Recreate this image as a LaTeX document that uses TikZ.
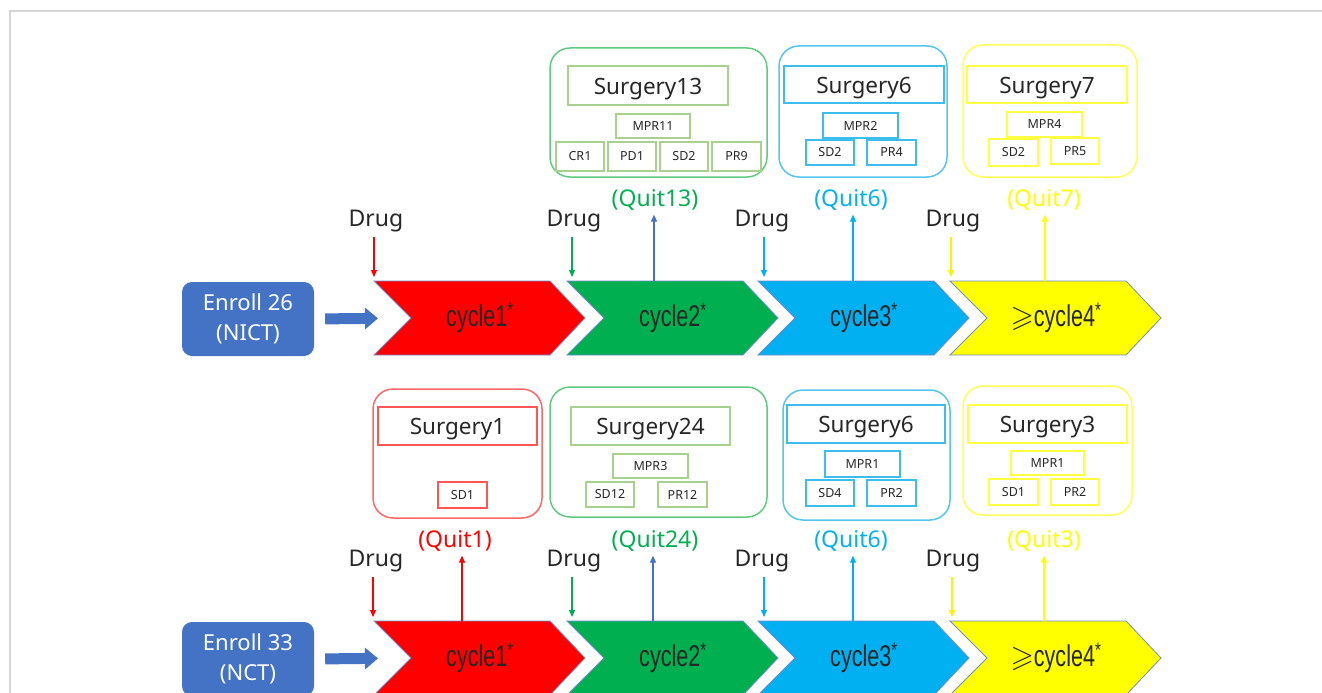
\documentclass[tikz,border=0pt]{standalone}
\usepackage{amssymb}
\usepackage{fontspec}
\setmainfont{Noto Sans}
\newfontfamily\cycfont[FakeStretch=0.72]{Liberation Sans}
\usetikzlibrary{arrows.meta}
\definecolor{cred}{HTML}{FF0000}
\definecolor{cgreen}{HTML}{00B050}
\definecolor{ccyan}{HTML}{00B0F0}
\definecolor{cyellow}{HTML}{FFFF00}
\definecolor{cyelarr}{HTML}{FFF200}
\definecolor{eblue}{HTML}{4472C4}
\definecolor{chevline}{HTML}{6F8CC8}
\definecolor{txt}{HTML}{262626}
\definecolor{pgreen}{HTML}{5FCB80}
\definecolor{igreen}{HTML}{A9D18E}
\definecolor{pcyan}{HTML}{55C5EE}
\definecolor{icyan}{HTML}{3DBDEE}
\definecolor{pyellow}{HTML}{FFFF55}
\definecolor{iyellow}{HTML}{FFFF40}
\definecolor{pred}{HTML}{FF6666}
\definecolor{ired}{HTML}{FF5555}
\definecolor{framec}{HTML}{D6D6D6}
\newcommand\mychev[5]{%
  \draw[chev, fill=#4] (#2,#3-37) coordinate (#1tl) -- (#2+176,#3-37) -- (#2+211,#3)
    -- (#2+176,#3+37) -- (#2,#3+37) -- (#2+37,#3) coordinate (#1n) -- cycle;
  \node[ctext] (#1) at (#2+106,#3) {#5};}
\newcommand\dn[1]{\raisebox{-3.5pt}[\height][\depth]{#1}}
\begin{document}
\begin{tikzpicture}[x=1pt,y=-1pt,
  panel/.style={draw, line width=1.5pt, rounded corners=20pt, inner sep=0pt, outer sep=0pt},
  ibox/.style={draw, line width=1.4pt, inner sep=0pt, text=txt, font=\fontsize{22.5}{26}\selectfont},
  sbox/.style={draw, line width=1.3pt, inner sep=0pt, text=txt, font=\fontsize{12.5}{14}\selectfont},
  drugl/.style={inner sep=0pt, text=txt, font=\fontsize{23}{27}\selectfont},
  quitl/.style={inner sep=0pt, font=\fontsize{23}{27}\selectfont},
  darr/.style={line width=1.1pt, -{Triangle[length=7pt,width=6pt]}, shorten <=5pt, shorten >=4pt},
  qarr/.style={line width=1.1pt, -{Triangle[length=7pt,width=6pt]}, shorten >=4pt},
  chev/.style={draw=chevline, line width=0.8pt},
  ctext/.style={inner sep=0pt, text=txt, font=\cycfont\fontsize{30}{32}\selectfont},
  enroll/.style={fill=eblue, rounded corners=10pt, minimum width=132pt, minimum height=74pt,
    inner sep=0pt, text=white, align=center, font=\fontsize{22}{30}\selectfont},
  earr/.style={draw=eblue, line width=11pt, -{Triangle[length=13pt,width=21pt]}},
  framel/.style={draw=framec, line width=1.5pt}]
\useasboundingbox (0,0) rectangle (1322,693);
\clip (0,0) rectangle (1322,693);
\draw[framel] (10,693) -- (10,11) -- (1322,11);

% ---------------- Row 1 (NICT) ----------------
\node[enroll] (en1) at (248,319) {Enroll 26\\(NICT)};
\mychev{ra}{374}{318}{cred}{cycle1\textsuperscript{*}}
\mychev{rb}{567}{318}{cgreen}{cycle2\textsuperscript{*}}
\mychev{rc}{758}{318}{ccyan}{cycle3\textsuperscript{*}}
\mychev{rd}{950}{318}{cyellow}{$\geqslant$cycle4\textsuperscript{*}}
\draw[earr, shorten <=11pt, shorten >=33pt] (en1.east) -- (ran);

\node[drugl] (da1) at (376,221) {Drug};
\node[drugl] (da2) at (574,221) {Drug};
\node[drugl] (da3) at (762,221) {Drug};
\node[drugl] (da4) at (953,221) {Drug};
\draw[darr, draw=cred] (ratl |- da1.south) -- (ratl);
\draw[darr, draw=cgreen] ([xshift=5pt]rbtl |- da2.south) -- ([xshift=5pt]rbtl);
\draw[darr, draw=ccyan] ([xshift=6pt]rctl |- da3.south) -- ([xshift=6pt]rctl);
\draw[darr, draw=cyelarr] ([xshift=1pt]rdtl |- da4.south) -- ([xshift=1pt]rdtl);

\node[quitl, text=cgreen] (qa2) at (655,200) {(Quit13)};
\node[quitl, text=ccyan] (qa3) at (851,200) {(Quit6)};
\node[quitl, text=cyellow] (qa4) at (1044,200) {(Quit7)};
\coordinate (qpa2) at ([xshift=87pt]rbtl);
\coordinate (qpa3) at ([xshift=95pt]rctl);
\coordinate (qpa4) at ([xshift=95pt]rdtl);
\draw[qarr, draw=eblue] (qpa2) -- (qpa2 |- qa2.south);
\draw[qarr, draw=ccyan] (qpa3) -- (qpa3 |- qa3.south);
\draw[qarr, draw=cyellow] (qpa4) -- (qpa4 |- qa4.south);

% panels row 1
\node[panel, draw=pgreen, minimum width=217pt, minimum height=129pt] (pa2) at (658.5,112.5) {};
\node[ibox, draw=igreen, minimum width=160pt, minimum height=39pt] (sa2) at (648,85.5) {\dn{Surgery13}};
\node[sbox, draw=igreen, minimum width=74pt, minimum height=24pt] (ma2) at (653,126) {MPR11};
\node[sbox, draw=igreen, minimum width=48pt, minimum height=29pt] (ka2) at (580,156.5) {CR1};
\node[sbox, draw=igreen, minimum width=48pt, minimum height=29pt] (la2) at (632,156.5) {PD1};
\node[sbox, draw=igreen, minimum width=48pt, minimum height=29pt] (xa2) at (684,156.5) {SD2};
\node[sbox, draw=igreen, minimum width=49pt, minimum height=29pt] (ya2) at (736.5,156.5) {PR9};

\node[panel, draw=pcyan, minimum width=168pt, minimum height=131pt] (pa3) at (863,111.5) {};
\node[ibox, draw=icyan, minimum width=160pt, minimum height=37pt] (sa3) at (864,84.5) {\dn{Surgery6}};
\node[sbox, draw=icyan, minimum width=75pt, minimum height=25pt] (ma3) at (860.5,125.5) {MPR2};
\node[sbox, draw=icyan, minimum width=48pt, minimum height=25pt] (xa3) at (830,152.5) {SD2};
\node[sbox, draw=icyan, minimum width=49pt, minimum height=25pt] (ya3) at (891.5,152.5) {PR4};

\node[panel, draw=pyellow, minimum width=174pt, minimum height=132pt] (pa4) at (1050,111) {};
\node[ibox, draw=iyellow, minimum width=160pt, minimum height=37pt] (sa4) at (1047,84.5) {\dn{Surgery7}};
\node[sbox, draw=iyellow, minimum width=75pt, minimum height=25pt] (ma4) at (1044.5,124.5) {MPR4};
\node[sbox, draw=iyellow, minimum width=49pt, minimum height=27pt] (xa4) at (1013.5,152.5) {SD2};
\node[sbox, draw=iyellow, minimum width=48pt, minimum height=26pt] (ya4) at (1075,151) {PR5};

% ---------------- Row 2 (NCT) ----------------
\node[enroll] (en2) at (248,659) {Enroll 33\\(NCT)};
\mychev{sa}{374}{658}{cred}{cycle1\textsuperscript{*}}
\mychev{sb}{567}{658}{cgreen}{cycle2\textsuperscript{*}}
\mychev{sc}{758}{658}{ccyan}{cycle3\textsuperscript{*}}
\mychev{sd}{950}{658}{cyellow}{$\geqslant$cycle4\textsuperscript{*}}
\draw[earr, shorten <=11pt, shorten >=33pt] (en2.east) -- (san);

\node[drugl] (db1) at (376,561) {Drug};
\node[drugl] (db2) at (574,561) {Drug};
\node[drugl] (db3) at (762,561) {Drug};
\node[drugl] (db4) at (953,561) {Drug};
\draw[darr, draw=cred] ([xshift=-1pt]satl |- db1.south) -- ([xshift=-1pt]satl);
\draw[darr, draw=cgreen] ([xshift=5pt]sbtl |- db2.south) -- ([xshift=5pt]sbtl);
\draw[darr, draw=ccyan] ([xshift=6pt]sctl |- db3.south) -- ([xshift=6pt]sctl);
\draw[darr, draw=cyelarr] ([xshift=2pt]sdtl |- db4.south) -- ([xshift=2pt]sdtl);

\node[quitl, text=cred] (qb1) at (455,541) {(Quit1)};
\node[quitl, text=cgreen] (qb2) at (655,541) {(Quit24)};
\node[quitl, text=ccyan] (qb3) at (851,541) {(Quit6)};
\node[quitl, text=cyellow] (qb4) at (1044,541) {(Quit3)};
\coordinate (qpb1) at ([xshift=88pt]satl);
\coordinate (qpb2) at ([xshift=86pt]sbtl);
\coordinate (qpb3) at ([xshift=95pt]sctl);
\coordinate (qpb4) at ([xshift=94pt]sdtl);
\draw[qarr, draw=cred] (qpb1) -- (qpb1 |- qb1.south);
\draw[qarr, draw=eblue] (qpb2) -- (qpb2 |- qb2.south);
\draw[qarr, draw=ccyan] (qpb3) -- (qpb3 |- qb3.south);
\draw[qarr, draw=cyellow] (qpb4) -- (qpb4 |- qb4.south);

% panels row 2
\node[panel, draw=pred, minimum width=169pt, minimum height=129pt] (pb1) at (457.5,453.5) {};
\node[ibox, draw=ired, minimum width=159pt, minimum height=38pt] (sb1) at (457.5,426) {\dn{Surgery1}};
\node[sbox, draw=ired, minimum width=49pt, minimum height=26pt] (xb1) at (462.5,495) {SD1};

\node[panel, draw=pgreen, minimum width=217pt, minimum height=130pt] (pb2) at (658.5,452) {};
\node[ibox, draw=igreen, minimum width=159pt, minimum height=38pt] (sb2) at (650.5,426) {\dn{Surgery24}};
\node[sbox, draw=igreen, minimum width=75pt, minimum height=24pt] (mb2) at (650.5,466) {MPR3};
\node[sbox, draw=igreen, minimum width=48pt, minimum height=25pt] (xb2) at (610,494.5) {SD12};
\node[sbox, draw=igreen, minimum width=49pt, minimum height=25pt] (yb2) at (682.5,494.5) {PR12};

\node[panel, draw=pcyan, minimum width=167pt, minimum height=130pt] (pb3) at (866.5,455) {};
\node[ibox, draw=icyan, minimum width=158pt, minimum height=38pt] (sb3) at (866,424) {\dn{Surgery6}};
\node[sbox, draw=icyan, minimum width=75pt, minimum height=26pt] (mb3) at (862.5,464) {MPR1};
\node[sbox, draw=icyan, minimum width=48pt, minimum height=26pt] (xb3) at (830,493) {SD4};
\node[sbox, draw=icyan, minimum width=49pt, minimum height=26pt] (yb3) at (891.5,493) {PR2};

\node[panel, draw=pyellow, minimum width=169pt, minimum height=129pt] (pb4) at (1047.5,450.5) {};
\node[ibox, draw=iyellow, minimum width=159pt, minimum height=38pt] (sb4) at (1047.5,424) {\dn{Surgery3}};
\node[sbox, draw=iyellow, minimum width=73pt, minimum height=24pt] (mb4) at (1047.5,463) {MPR1};
\node[sbox, draw=iyellow, minimum width=49pt, minimum height=26pt] (xb4) at (1013.5,492) {SD1};
\node[sbox, draw=iyellow, minimum width=48pt, minimum height=26pt] (yb4) at (1075,492) {PR2};
\end{tikzpicture}
\end{document}
